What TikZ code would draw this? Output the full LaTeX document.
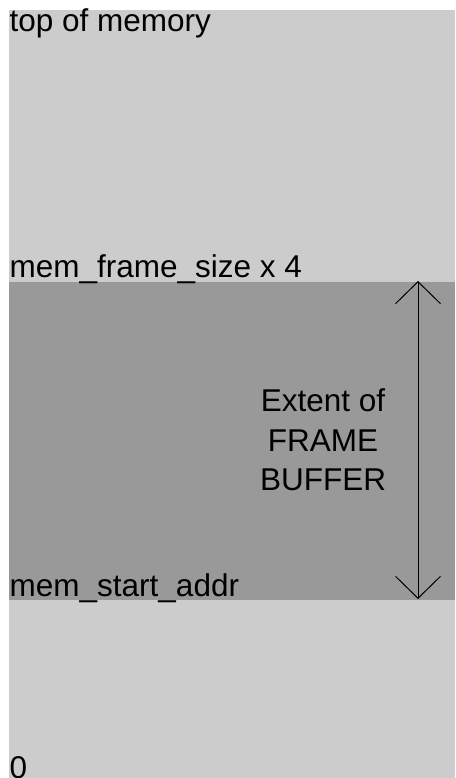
\documentclass[tikz,border=0pt]{standalone}
\usepackage{fontspec}
\setmainfont{Liberation Sans}
\usetikzlibrary{arrows.meta}
\definecolor{memgray}{HTML}{CCCCCC}
\definecolor{fbgray}{HTML}{999999}
\begin{document}
\begin{tikzpicture}[x=1pt,y=1pt,font=\fontsize{31.5}{39.5}\selectfont]

\useasboundingbox (0,0) rectangle (455,778);

\fill[memgray] (9,0) rectangle (455,768);
\fill[fbgray] (9,178) rectangle (455,496);

\node[anchor=base west,inner sep=0] (top) at (9.5,746) {top of memory};
\node[anchor=base west,inner sep=0] (size) at (9.5,500.5) {mem\_frame\_size x 4};
\node[anchor=base west,inner sep=0] (start) at (9.5,181.5) {mem\_start\_addr};
\node[anchor=base west,inner sep=0] (zero) at (9.5,-1) {0};

\node[anchor=base,inner sep=0,align=center] (extent) at (323,287) {Extent of\\FRAME\\BUFFER};

\coordinate (fbtop) at (418,497);
\coordinate (fbbot) at (418,179);
\draw[line width=1pt,{Straight Barb[length=22pt,width=45pt]}-{Straight Barb[length=22pt,width=45pt]}] (fbtop) -- (fbbot) ;
\end{tikzpicture}
\end{document}
